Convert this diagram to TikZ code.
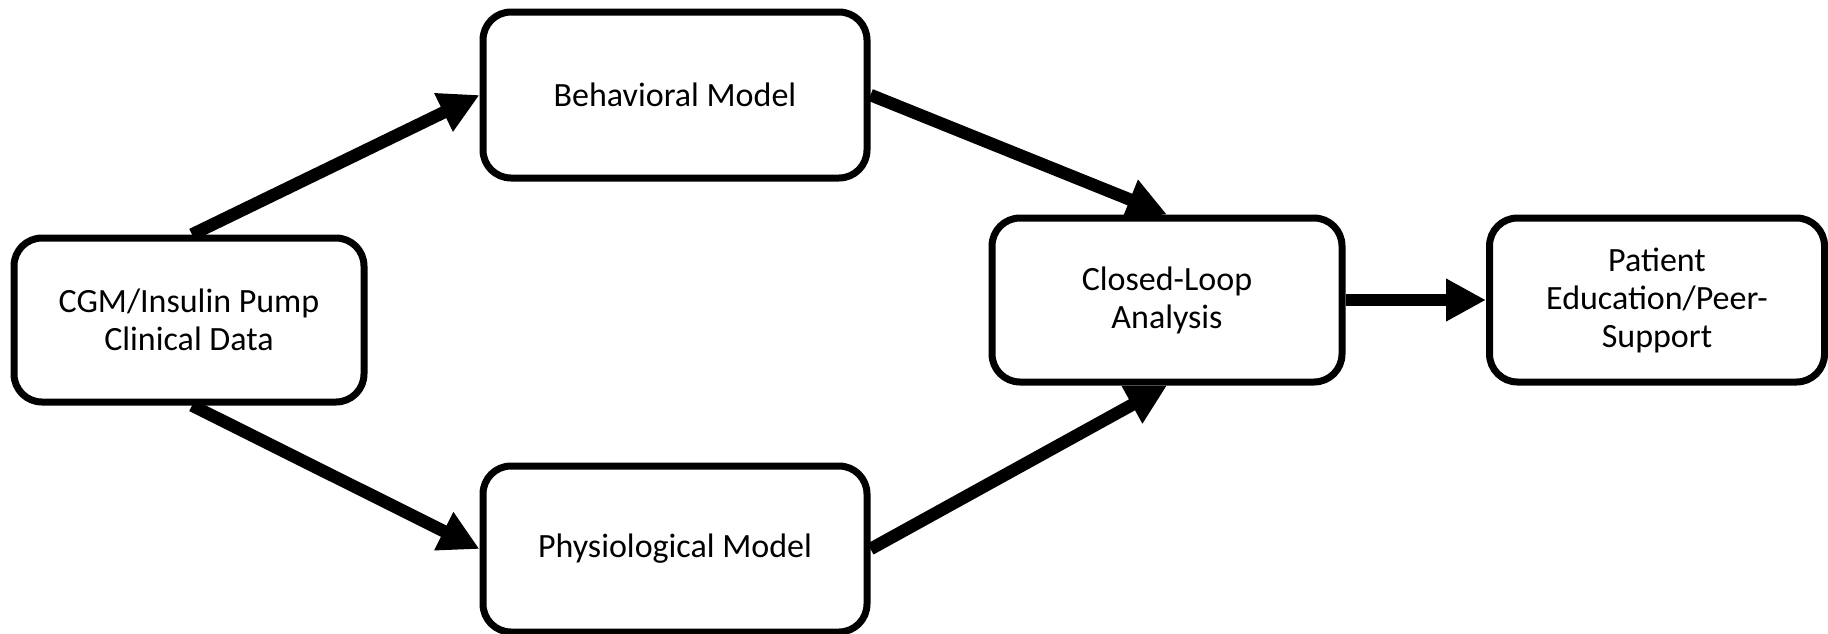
\documentclass[tikz,border=0pt]{standalone}
\usepackage{fontspec}
\setmainfont{Carlito}
\usetikzlibrary{arrows.meta}
\begin{document}
\begin{tikzpicture}[x=1pt,y=-1pt,
  box/.style={draw=black, line width=7pt, rounded corners=28pt, fill=white,
    align=center, inner sep=0pt,
    font=\fontsize{34pt}{38pt}\selectfont},
  conn/.style={line width=12.5pt, -{Triangle[length=40pt,width=40pt]}}]
\useasboundingbox (0,0) rectangle (1828,633);
\node[box, minimum width=350pt, minimum height=164pt] (cgm) at (189,320) {CGM/Insulin Pump\\Clinical Data};
\node[box, minimum width=384pt, minimum height=166pt] (beh) at (675,95) {Behavioral Model};
\node[box, minimum width=384pt, minimum height=166pt] (phy) at (675,549) {Physiological Model};
\node[box, minimum width=350pt, minimum height=164pt] (clo) at (1167,300) {Closed-Loop\\Analysis};
\node[box, minimum width=335pt, minimum height=164pt] (pat) at (1657,300) {Patient\\Education/Peer-\\Support};
\draw[conn] ([xshift=3pt]cgm.north) -- (beh.west);
\draw[conn] ([xshift=3pt]cgm.south) -- (phy.west);
\draw[conn] (beh.east) -- (clo.north);
\draw[conn] (phy.east) -- (clo.south);
\draw[conn] (clo.east) -- (pat.west);
\end{tikzpicture}
\end{document}
